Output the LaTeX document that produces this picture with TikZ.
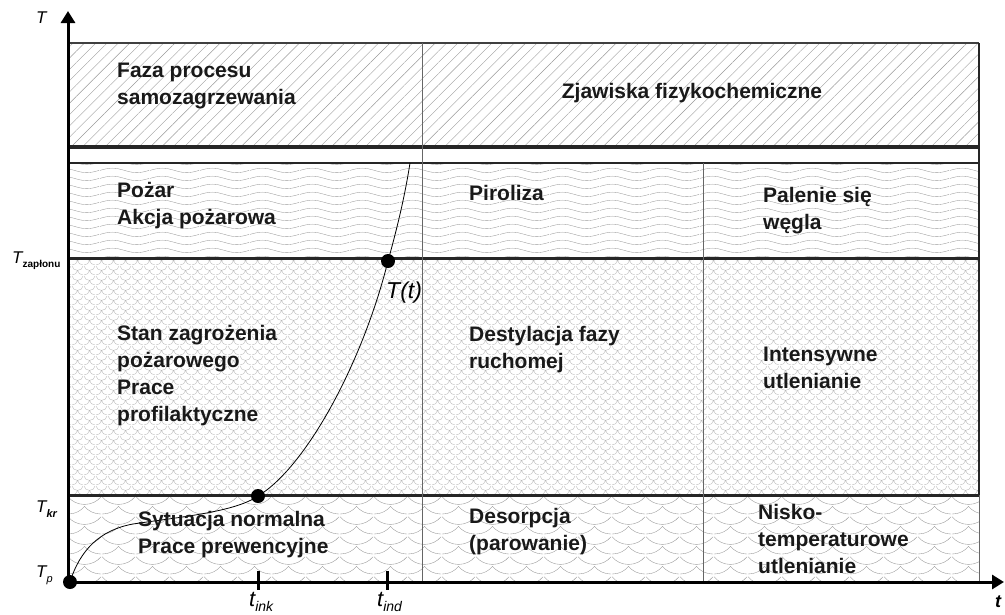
\documentclass[tikz,border=0pt]{standalone}
\usepackage{fontspec}
\setmainfont{Liberation Sans}
\usetikzlibrary{patterns,patterns.meta,arrows.meta}

% wzory wypelnien
\pgfdeclarepatternformonly{wavy}{\pgfpointorigin}{\pgfpoint{50pt}{8pt}}{\pgfpoint{50pt}{8pt}}{%
  \pgfsetlinewidth{0.4pt}%
  \pgfpathmoveto{\pgfpoint{0pt}{4pt}}%
  \pgfpathsine{\pgfpoint{12.5pt}{2.5pt}}%
  \pgfpathcosine{\pgfpoint{12.5pt}{-2.5pt}}%
  \pgfpathsine{\pgfpoint{12.5pt}{-2.5pt}}%
  \pgfpathcosine{\pgfpoint{12.5pt}{2.5pt}}%
  \pgfusepath{stroke}}
\pgfdeclarepatternformonly{scallop}{\pgfpointorigin}{\pgfpoint{34pt}{20pt}}{\pgfpoint{34pt}{20pt}}{%
  \pgfsetlinewidth{0.4pt}%
  \pgfpathmoveto{\pgfpoint{0pt}{19pt}}%
  \pgfpathcurveto{\pgfpoint{4pt}{14pt}}{\pgfpoint{10pt}{11pt}}{\pgfpoint{17pt}{11pt}}%
  \pgfpathcurveto{\pgfpoint{24pt}{11pt}}{\pgfpoint{30pt}{14pt}}{\pgfpoint{34pt}{19pt}}%
  \pgfpathmoveto{\pgfpoint{0pt}{1pt}}%
  \pgfpathcurveto{\pgfpoint{7pt}{1pt}}{\pgfpoint{13pt}{4pt}}{\pgfpoint{17pt}{9pt}}%
  \pgfpathcurveto{\pgfpoint{21pt}{4pt}}{\pgfpoint{27pt}{1pt}}{\pgfpoint{34pt}{1pt}}%
  \pgfusepath{stroke}}
\pgfdeclarepatternformonly{puzzle}{\pgfpointorigin}{\pgfpoint{12pt}{10pt}}{\pgfpoint{12pt}{10pt}}{%
  \pgfsetlinewidth{0.4pt}%
  \pgfpathmoveto{\pgfpoint{0pt}{10pt}}%
  \pgfpathcurveto{\pgfpoint{0.5pt}{7pt}}{\pgfpoint{3pt}{5pt}}{\pgfpoint{6pt}{5pt}}%
  \pgfpathcurveto{\pgfpoint{9pt}{5pt}}{\pgfpoint{11.5pt}{7pt}}{\pgfpoint{12pt}{10pt}}%
  \pgfpathmoveto{\pgfpoint{0pt}{0pt}}%
  \pgfpathcurveto{\pgfpoint{3pt}{0pt}}{\pgfpoint{5.5pt}{2pt}}{\pgfpoint{6pt}{5pt}}%
  \pgfpathcurveto{\pgfpoint{6.5pt}{2pt}}{\pgfpoint{9pt}{0pt}}{\pgfpoint{12pt}{0pt}}%
  \pgfusepath{stroke}}

\begin{document}
\begin{tikzpicture}[x=1pt,y=-1pt,
    cell/.style={font=\bfseries\fontsize{21}{27}\selectfont, align=left, anchor=west, inner sep=0pt, text=black!90},
    axislbl/.style={font=\itshape\fontsize{17}{17}\selectfont, inner sep=0pt, anchor=west},
    hatch/.style={pattern color=black!40},
    thickrule/.style={line width=3pt, black!85},
    thinrule/.style={line width=1pt, black!60},
    dot/.style={circle, fill=black, inner sep=0pt, minimum size=14pt},
    tick/.style={line width=3pt}]

\useasboundingbox (0,0) rectangle (1005,614);

% wypelnienia pasow
\fill[hatch, pattern={Lines[angle=45,distance=8pt,line width=0.4pt]}] (68,43) rectangle (979,147);
\fill[hatch, pattern=wavy] (68,163) rectangle (979,258);
\fill[hatch, pattern=puzzle, pattern color=black!28] (68,258) rectangle (979,495);
\fill[hatch, pattern=scallop] (68,495) rectangle (979,582);

% linie tabeli
\draw[line width=2pt, black!75] (68,43) -- (979,43);
\draw[line width=2.5pt, black!85] (979,43) -- (979,495);
\draw[thinrule] (979,495) -- (979,582);
\draw[line width=3.5pt, black!85] (68,147) -- (979,147);
\draw[line width=1.5pt, black!85] (68,163) -- (979,163);
\draw[thickrule] (68,258) -- (979,258);
\draw[thickrule] (68,495) -- (979,495);
\draw[thinrule] (422,43) -- (422,582);
\draw[thinrule] (703,163) -- (703,582);

% osie
\coordinate (O) at (68,582);
\coordinate (Tmax) at (68,11);
\coordinate (tmax) at (1004,582);
\draw[line width=3pt, -{Triangle[length=12pt,width=14pt]}] (O) -- (Tmax);
\draw[line width=3pt, -{Triangle[length=12pt,width=14pt]}] (O) -- (tmax);

% krzywa T(t)
\coordinate (Tp) at (70,582);
\coordinate (c1) at (133,524);
\coordinate (Tkr) at (258,496);
\coordinate (Tzap) at (388,261);
\coordinate (ctop) at (410,163);
\draw[line width=0.8pt] (Tp) .. controls (80,550) and (100,530) .. (c1)
  .. controls (180,517) and (235,512) .. (Tkr)
  .. controls (305,468) and (362,365) .. (Tzap)
  .. controls (398,225) and (405,195) .. (ctop);
\node[dot] (dTp) at (Tp) {};
\node[dot] (dTkr) at (Tkr) {};
\node[dot] (dTzap) at (Tzap) {};
\node[font=\itshape\fontsize{23}{23}\selectfont, inner sep=0pt, anchor=west] (Tt) at (386,293) {T(t)};

% znaczniki czasu
\coordinate (tink) at (258,582);
\coordinate (tind) at (387,582);
\draw[tick] ([yshift=11pt]tink) -- ([yshift=-8pt]tink);
\draw[tick] ([yshift=11pt]tind) -- ([yshift=-8pt]tind);

% opisy osi
\node[axislbl] (lT) at (36,18) {T};
\node[axislbl] (lTzap) at (12,261) {T\raisebox{-4pt}{\fontsize{10}{10}\selectfont\bfseries\upshape zapłonu}};
\node[axislbl] (lTkr) at (36,509) {T\raisebox{-5pt}{\fontsize{11}{11}\selectfont\bfseries kr}};
\node[axislbl] (lTp) at (36,575) {T\raisebox{-5pt}{\fontsize{11}{11}\selectfont p}};
\node[axislbl, font=\itshape\fontsize{22}{22}\selectfont] (ltink) at (249,602) {t\raisebox{-5pt}{\fontsize{14}{14}\selectfont ink}};
\node[axislbl, font=\itshape\fontsize{22}{22}\selectfont] (ltind) at (377,602) {t\raisebox{-5pt}{\fontsize{14}{14}\selectfont ind}};
\node[axislbl, font=\bfseries\itshape\fontsize{18}{18}\selectfont] (lt) at (995,602) {t};

% opisy pol
\node[cell] (faza) at (117,86) {Faza procesu\\samozagrzewania};
\node[cell, anchor=center] (zjaw) at (692,93) {Zjawiska fizykochemiczne};
\node[cell] (pozar) at (117,206) {Pożar\\Akcja pożarowa};
\node[cell] (piro) at (469,193) {Piroliza};
\node[cell] (palenie) at (763,211) {Palenie się\\węgla};
\node[cell] (stan) at (117,376) {Stan zagrożenia\\pożarowego\\Prace\\profilaktyczne};
\node[cell] (destyl) at (469,350) {Destylacja fazy\\ruchomej};
\node[cell] (intens) at (763,368) {Intensywne\\utlenianie};
\node[cell] (sytu) at (138,535) {Sytuacja normalna\\Prace prewencyjne};
\node[cell] (desorp) at (469,532) {Desorpcja\\(parowanie)};
\node[cell] (nisko) at (758,539) {Nisko-\\temperaturowe\\utlenianie};
\end{tikzpicture}
\end{document}
